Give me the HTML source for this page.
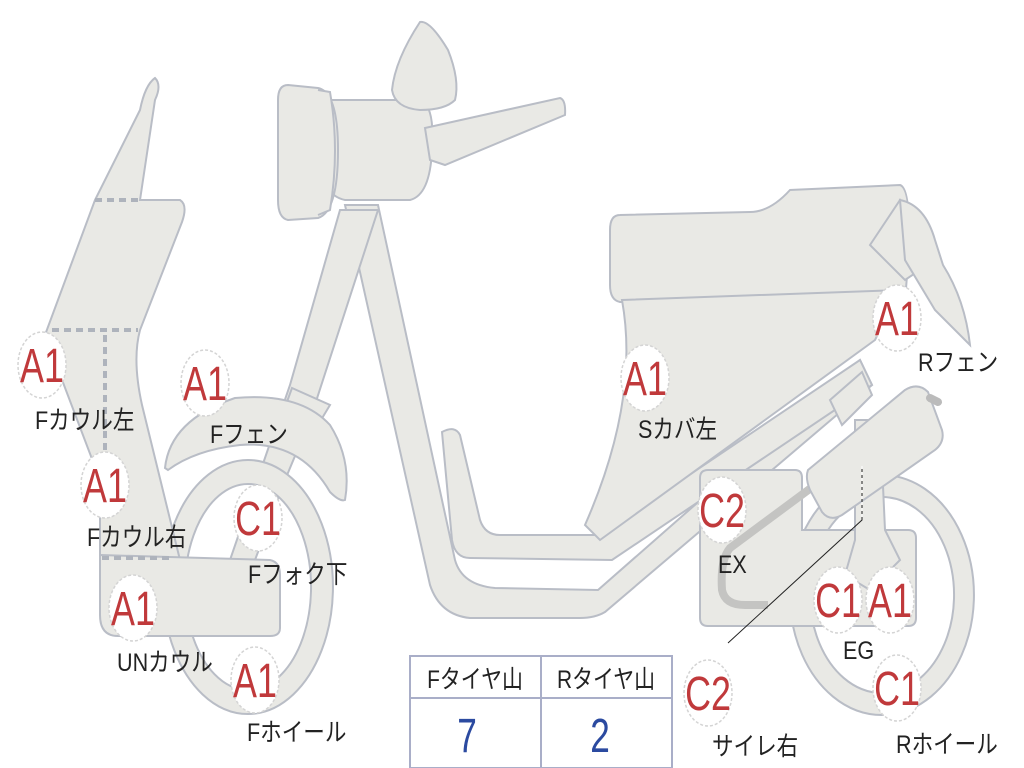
<!DOCTYPE html>
<html><head><meta charset="utf-8"><style>
html,body{margin:0;padding:0;background:#fff;width:1024px;height:768px;overflow:hidden}
svg{display:block}
.p{fill:#e9e9e5;stroke:#b9bdc6;stroke-width:2}
.b{fill:#fff;stroke:#d4d4d4;stroke-width:1.5;stroke-dasharray:3 2}
.bt{font-family:"Liberation Sans",sans-serif;font-size:46px;fill:#c0393b;text-anchor:middle}
.l{font-family:"Liberation Sans","Noto Sans CJK JP",sans-serif;font-size:22px;fill:#222}
</style></head><body>
<svg width="1024" height="768" viewBox="0 0 1024 768">
<!-- rear wheel -->
<path class="p" fill-rule="evenodd" d="M882,475 a92,120 0 1,1 -0.1,0 Z M882,497 a72,98 0 1,0 0.1,0 Z"/>
<!-- frame -->
<path class="p" d="M345,205 L378,205 L455,560 Q462,585 495,588 L598,590 L860,360 L872,385 L605,612 Q595,618 580,618 L470,618 Q440,615 430,585 Z"/>
<path class="p" d="M442,432 Q455,425 460,435 L480,520 Q485,535 500,535 L600,535 L860,360 L872,385 L612,560 L470,558 Q455,558 452,540 Z"/>
<!-- seat -->
<path class="p" d="M620,215 L750,212 Q770,212 790,190 L900,185 Q915,190 905,300 L620,302 Q610,300 610,285 L610,230 Q610,215 620,215 Z"/>
<!-- side cover -->
<path class="p" d="M622,300 L900,290 L875,340 L600,540 L585,525 Q640,400 622,300 Z"/>
<!-- rear tail -->
<path class="p" d="M870,245 L900,200 L935,260 L905,280 Z"/>
<path class="p" d="M900,200 Q925,205 935,240 L943,265 Q965,300 970,345 Q955,330 935,310 L905,260 Z"/>
<!-- engine -->
<path class="p" d="M708,470 L795,470 Q802,470 802,478 L802,530 L908,530 Q916,530 916,538 L916,618 Q916,626 908,626 L708,626 Q700,626 700,618 L700,478 Q700,470 708,470 Z"/>
<path class="p" d="M855,420 L880,420 L885,530 L900,560 L870,590 L845,575 L855,540 Z"/>
<!-- exhaust -->
<path d="M815,485 L730,548 Q720,560 722,590 Q725,605 745,605 L768,605" fill="none" stroke="#c4c4c2" stroke-width="8"/>
<path class="p" d="M830,400 L862,372 L872,395 L842,425 Z"/>
<!-- airbox -->
<path class="p" d="M808,470 L905,390 Q918,382 928,392 L942,430 Q945,442 935,450 L842,515 Q830,522 822,512 L810,490 Q805,478 808,470 Z"/>
<path d="M930,398 L938,402" stroke="#bbb" stroke-width="8" stroke-linecap="round"/>
<!-- front fork -->
<path class="p" d="M340,210 L378,210 L310,420 L285,480 L255,560 L230,560 L290,385 Z"/>
<path class="p" d="M292,388 L330,405 L318,425 L284,410 Z"/>
<!-- front wheel -->
<path class="p" fill-rule="evenodd" d="M248,460 a85,127 0 1,1 -0.1,0 Z M248,484 a63,103 0 1,0 0.1,0 Z"/>
<!-- front fender -->
<path class="p" d="M165,468 Q170,420 235,398 Q300,392 330,425 Q352,460 345,500 Q340,502 330,492 Q300,440 240,445 Q195,450 168,470 Z"/>
<!-- cowl -->
<path class="p" d="M140,110 Q145,85 155,78 Q162,85 155,100 L140,200 L180,200 Q188,205 182,222 L140,330 Q132,360 142,405 L180,560 L100,560 L100,480 L45,335 L95,200 Z"/>
<path class="p" d="M100,555 L270,560 Q280,562 280,575 L280,628 Q280,636 270,636 L118,636 Q100,636 100,615 Z"/>
<g stroke="#aeb3bc" stroke-width="4" stroke-dasharray="7 5" fill="none">
<path d="M95,200 H140"/><path d="M52,330 H138"/><path d="M105,335 V455"/><path d="M102,558 H172"/>
</g>
<!-- headlight / handlebar -->
<path class="p" d="M320,100 L420,100 Q435,105 432,150 Q430,195 410,200 L345,200 Q320,195 318,150 Z"/>
<path class="p" d="M288,85 L318,88 Q338,92 338,150 Q338,212 318,218 L288,220 Q278,218 278,200 L278,100 Q278,85 288,85 Z"/>
<path class="p" d="M318,90 L330,92 Q340,150 330,210 L318,215"/>
<path class="p" d="M420,22 Q430,20 448,50 Q460,80 455,100 Q445,110 420,110 Q395,108 392,90 Q395,60 420,22 Z"/>
<path class="p" d="M425,128 L560,98 Q566,100 565,115 L445,165 L430,160 Z"/>
<!-- line -->
<path d="M728,643 L862,520 L862,466" fill="none" stroke="#222" stroke-width="1"/>
<path d="M862,466 V518" stroke="#fff" stroke-width="1" stroke-dasharray="3 3"/>
<!-- table -->
<rect x="410" y="656" width="262" height="112" fill="#fff" stroke="#a9aec8" stroke-width="2"/>
<line x1="410" y1="698" x2="672" y2="698" stroke="#a9aec8" stroke-width="2"/>
<line x1="541" y1="656" x2="541" y2="768" stroke="#a9aec8" stroke-width="2"/>
<text class="l" transform="translate(475,688) scale(0.95,1.15)" text-anchor="middle">Fタイヤ山</text>
<text class="l" transform="translate(606,688) scale(0.95,1.15)" text-anchor="middle">Rタイヤ山</text>
<text transform="translate(467,752) scale(0.8,1.1)" font-family="Liberation Sans,sans-serif" font-size="44" fill="#2b4aa0" text-anchor="middle">7</text>
<text transform="translate(600,752) scale(0.8,1.1)" font-family="Liberation Sans,sans-serif" font-size="44" fill="#2b4aa0" text-anchor="middle">2</text>
<!-- badges -->
<g>
<ellipse class="b" cx="42" cy="365" rx="24" ry="33"/><text class="bt" transform="translate(42,382) scale(0.78,1.05)">A1</text>
<ellipse class="b" cx="205" cy="383" rx="24" ry="33"/><text class="bt" transform="translate(205,400) scale(0.78,1.05)">A1</text>
<ellipse class="b" cx="105" cy="485" rx="24" ry="33"/><text class="bt" transform="translate(105,502) scale(0.78,1.05)">A1</text>
<ellipse class="b" cx="258" cy="518" rx="24" ry="33"/><text class="bt" transform="translate(258,535) scale(0.78,1.05)">C1</text>
<ellipse class="b" cx="133" cy="608" rx="24" ry="33"/><text class="bt" transform="translate(133,625) scale(0.78,1.05)">A1</text>
<ellipse class="b" cx="255" cy="680" rx="24" ry="33"/><text class="bt" transform="translate(255,697) scale(0.78,1.05)">A1</text>
<ellipse class="b" cx="645" cy="378" rx="24" ry="33"/><text class="bt" transform="translate(645,395) scale(0.78,1.05)">A1</text>
<ellipse class="b" cx="897" cy="318" rx="24" ry="33"/><text class="bt" transform="translate(897,335) scale(0.78,1.05)">A1</text>
<ellipse class="b" cx="722" cy="510" rx="24" ry="33"/><text class="bt" transform="translate(722,527) scale(0.78,1.05)">C2</text>
<ellipse class="b" cx="838" cy="600" rx="24" ry="33"/><text class="bt" transform="translate(838,617) scale(0.78,1.05)">C1</text>
<ellipse class="b" cx="890" cy="600" rx="24" ry="33"/><text class="bt" transform="translate(890,617) scale(0.78,1.05)">A1</text>
<ellipse class="b" cx="708" cy="693" rx="24" ry="33"/><text class="bt" transform="translate(708,710) scale(0.78,1.05)">C2</text>
<ellipse class="b" cx="897" cy="688" rx="24" ry="33"/><text class="bt" transform="translate(897,705) scale(0.78,1.05)">C1</text>
</g>
<g>
<text class="l" transform="translate(35,429) scale(0.98,1.15)">Fカウル左</text>
<text class="l" transform="translate(210,443) scale(0.98,1.15)">Fフェン</text>
<text class="l" transform="translate(87,546) scale(0.98,1.15)">Fカウル右</text>
<text class="l" transform="translate(248,583) scale(0.98,1.15)">Fフォク下</text>
<text class="l" transform="translate(117,671) scale(0.98,1.15)">UNカウル</text>
<text class="l" transform="translate(247,741) scale(0.98,1.15)">Fホイール</text>
<text class="l" transform="translate(638,438) scale(0.98,1.15)">Sカバ左</text>
<text class="l" transform="translate(918,371) scale(0.98,1.15)">Rフェン</text>
<text class="l" transform="translate(718,573) scale(0.98,1.15)">EX</text>
<text class="l" transform="translate(843,659) scale(0.98,1.15)">EG</text>
<text class="l" transform="translate(712,755) scale(0.98,1.15)">サイレ右</text>
<text class="l" transform="translate(896,753) scale(0.98,1.15)">Rホイール</text>
</g>
</svg>
</body></html>
